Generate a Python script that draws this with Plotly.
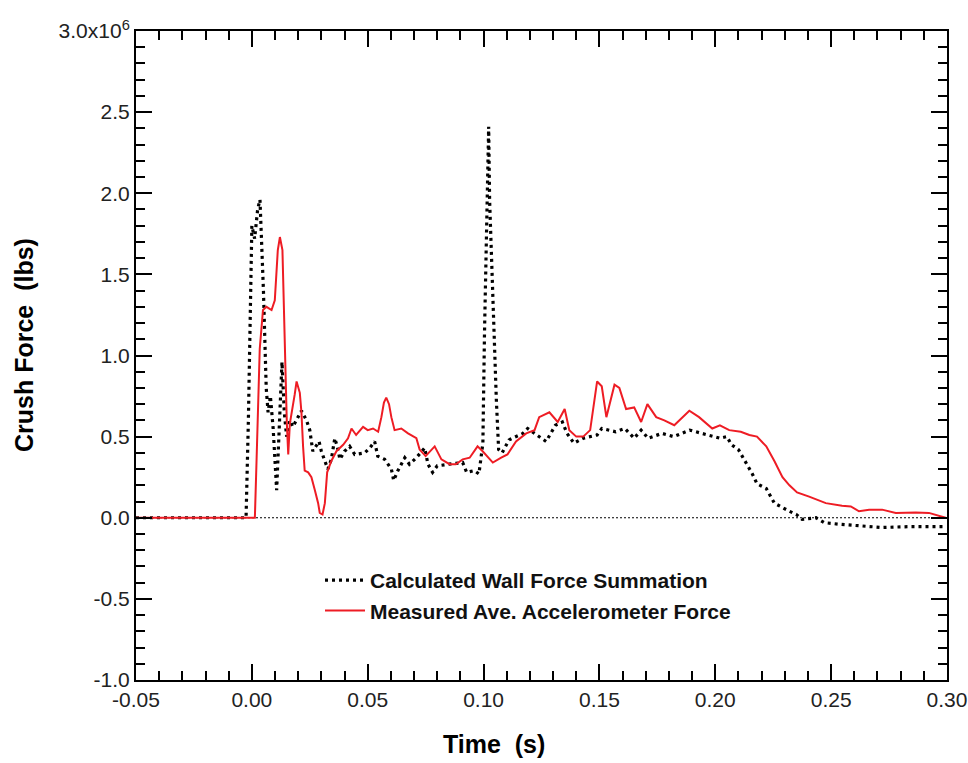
import numpy as np
import plotly.graph_objects as go

# Calculated Wall Force Summation (time s, force in 1e6 lbs)
calc_t = [-0.05, -0.0025, -0.0015, -0.0005, 0.0000, 0.0012, 0.0025, 0.0035, 0.0050, 0.0062,
          0.0070, 0.0080, 0.0092, 0.0107, 0.0118, 0.0130, 0.0140, 0.0150, 0.0164, 0.0177,
          0.0214, 0.0236, 0.0250, 0.0257, 0.0263, 0.0290, 0.0300, 0.0315, 0.0328, 0.0343,
          0.0358, 0.0370, 0.0380, 0.0400, 0.0422, 0.0444, 0.0487, 0.0509, 0.0530, 0.0543,
          0.0573, 0.0602, 0.0612, 0.0630, 0.0660, 0.0680, 0.0710, 0.0746, 0.0760, 0.0780,
          0.0800, 0.0850, 0.0910, 0.0927, 0.0960, 0.0980, 0.0997, 0.1004, 0.1012, 0.1019,
          0.1022, 0.1026, 0.1040, 0.1055, 0.1065, 0.1080, 0.1110, 0.1170, 0.1190, 0.1240,
          0.1270, 0.1310, 0.1340, 0.1360, 0.1390, 0.1430, 0.1490, 0.1510, 0.1570, 0.1610,
          0.1650, 0.1680, 0.1710, 0.1770, 0.1820, 0.1890, 0.1940, 0.2020, 0.2050, 0.2070,
          0.2100, 0.2120, 0.2140, 0.2160, 0.2180, 0.2220, 0.2255, 0.2290, 0.2320, 0.2350,
          0.2375, 0.2435, 0.2470, 0.2535, 0.2630, 0.2720, 0.2836, 0.2920, 0.2990]
calc_f = [0.00, 0.00, 0.60, 1.40, 1.80, 1.72, 1.90, 1.96, 1.40, 0.80,
          0.65, 0.75, 0.55, 0.17, 0.60, 0.96, 0.65, 0.50, 0.60, 0.56,
          0.66, 0.60, 0.54, 0.45, 0.41, 0.47, 0.41, 0.35, 0.30, 0.36,
          0.49, 0.43, 0.36, 0.41, 0.44, 0.39, 0.40, 0.43, 0.47, 0.38,
          0.36, 0.30, 0.23, 0.29, 0.37, 0.33, 0.37, 0.43, 0.33, 0.28,
          0.32, 0.33, 0.34, 0.28, 0.29, 0.27, 0.46, 1.14, 1.76, 2.27,
          2.41, 1.96, 1.34, 0.73, 0.42, 0.40, 0.48, 0.52, 0.55, 0.50,
          0.47, 0.57, 0.59, 0.52, 0.46, 0.49, 0.51, 0.55, 0.53, 0.55,
          0.49, 0.54, 0.49, 0.52, 0.50, 0.54, 0.52, 0.49, 0.50, 0.45,
          0.42, 0.37, 0.32, 0.27, 0.21, 0.18, 0.09, 0.06, 0.04, 0.02,
          -0.01, 0.00, -0.03, -0.04, -0.05, -0.06, -0.055, -0.055, -0.055]

# Measured Ave. Accelerometer Force (time s, force in 1e6 lbs)
meas_t = [-0.05, 0.0013, 0.0020, 0.0028, 0.0034, 0.0048, 0.0063, 0.0085, 0.0099, 0.0112,
          0.0121, 0.0132, 0.0142, 0.0151, 0.0157, 0.0164, 0.0185, 0.0193, 0.0207, 0.0214,
          0.0221, 0.0228, 0.0243, 0.0257, 0.0272, 0.0286, 0.0293, 0.0305, 0.0315, 0.0325,
          0.0343, 0.0365, 0.0394, 0.0415, 0.0430, 0.0450, 0.0480, 0.0500, 0.0523, 0.0545,
          0.0559, 0.0570, 0.0580, 0.0592, 0.0602, 0.0616, 0.0645, 0.0674, 0.0710, 0.0724,
          0.0750, 0.0789, 0.0818, 0.0853, 0.0880, 0.0910, 0.0940, 0.0974, 0.0996, 0.1040,
          0.1076, 0.1103, 0.1140, 0.1184, 0.1220, 0.1240, 0.1284, 0.1320, 0.1350, 0.1370,
          0.1400, 0.1430, 0.1460, 0.1490, 0.1510, 0.1530, 0.1565, 0.1586, 0.1615, 0.1650,
          0.1680, 0.1707, 0.1745, 0.1780, 0.1823, 0.1888, 0.1930, 0.1987, 0.2020, 0.2060,
          0.2110, 0.2147, 0.2180, 0.2220, 0.2255, 0.2290, 0.2320, 0.2353, 0.2405, 0.2477,
          0.2547, 0.2585, 0.2620, 0.2664, 0.2720, 0.2779, 0.2865, 0.2922, 0.2994]
meas_f = [0.00, 0.00, 0.34, 0.75, 1.04, 1.28, 1.30, 1.28, 1.34, 1.65,
          1.73, 1.65, 1.04, 0.58, 0.39, 0.58, 0.76, 0.84, 0.77, 0.65,
          0.44, 0.29, 0.28, 0.25, 0.17, 0.09, 0.03, 0.02, 0.09, 0.28,
          0.35, 0.41, 0.45, 0.49, 0.55, 0.51, 0.56, 0.54, 0.55, 0.53,
          0.62, 0.71, 0.74, 0.70, 0.62, 0.54, 0.55, 0.52, 0.49, 0.42,
          0.38, 0.44, 0.36, 0.33, 0.33, 0.36, 0.37, 0.44, 0.41, 0.34,
          0.37, 0.39, 0.47, 0.52, 0.54, 0.62, 0.65, 0.59, 0.67, 0.54,
          0.50, 0.50, 0.54, 0.84, 0.81, 0.62, 0.82, 0.80, 0.67, 0.68,
          0.59, 0.70, 0.62, 0.60, 0.57, 0.66, 0.62, 0.55, 0.57, 0.54,
          0.53, 0.51, 0.50, 0.44, 0.35, 0.25, 0.20, 0.156, 0.13, 0.09,
          0.074, 0.07, 0.04, 0.05, 0.05, 0.03, 0.033, 0.03, 0.00]

y_tickvals = [-1.0, -0.5, 0.0, 0.5, 1.0, 1.5, 2.0, 2.5, 3.0]
y_ticktext = ["-1.0", "-0.5", "0.0", "0.5", "1.0", "1.5", "2.0", "2.5", "3.0x10<sup>6</sup>"]
x_tickvals = [-0.05, 0.00, 0.05, 0.10, 0.15, 0.20, 0.25, 0.30]
x_ticktext = ["-0.05", "0.00", "0.05", "0.10", "0.15", "0.20", "0.25", "0.30"]

FONT = "Liberation Sans, Arial, sans-serif"
scale = 1e6

fig = go.Figure()
fig.add_trace(go.Scatter(
    x=[-0.05, 0.30], y=[0, 0], mode="lines", showlegend=False, hoverinfo="skip",
    line=dict(color="black", width=1, dash="2px,2px")))
fig.add_trace(go.Scatter(
    x=calc_t, y=np.array(calc_f) * scale, mode="lines",
    name="<b>Calculated Wall Force Summation</b>",
    line=dict(color="black", width=3.2, dash="3px,4px")))
fig.add_trace(go.Scatter(
    x=meas_t, y=np.array(meas_f) * scale, mode="lines",
    name="<b>Measured Ave. Accelerometer Force</b>",
    line=dict(color="#ee1c24", width=2)))

axis_common = dict(
    showline=True, linecolor="black", linewidth=2, mirror="ticks",
    ticks="inside", tickcolor="black", tickwidth=2, ticklen=16,
    showgrid=False, zeroline=False, automargin=False, ticklabeloverflow="allow",
    tickfont=dict(family=FONT, size=21, color="#222"),
)
fig.update_xaxes(**axis_common, range=[-0.05, 0.30], tickvals=x_tickvals, ticktext=x_ticktext,
                 minor=dict(ticks="inside", dtick=0.01, ticklen=9, tickwidth=2, tickcolor="black"))
fig.update_yaxes(**axis_common, range=[-1.0 * scale, 3.0 * scale],
                 tickvals=[v * scale for v in y_tickvals], ticktext=y_ticktext,
                 minor=dict(ticks="inside", dtick=0.1 * scale, ticklen=9, tickwidth=2, tickcolor="black"))

plot_w = 811
fig.add_annotation(text="<b>Time\u00a0\u00a0(s)</b>", xref="paper", yref="paper",
                   x=(494 - 136) / plot_w, y=-(744 - 680) / 649, showarrow=False,
                   font=dict(family=FONT, size=25, color="black"), xanchor="center", yanchor="middle")
fig.add_annotation(text="<b>Crush Force\u00a0\u00a0(lbs)</b>", xref="paper", yref="paper",
                   x=-(136 - 24) / plot_w, y=(680 - 345) / 649, showarrow=False, textangle=-90,
                   font=dict(family=FONT, size=25, color="black"), xanchor="center", yanchor="middle")

fig.update_layout(
    width=968, height=763,
    margin=dict(l=136, r=21, t=31, b=83, autoexpand=False),
    plot_bgcolor="white", paper_bgcolor="white",
    legend=dict(x=(320 - 136) / plot_w, y=(680 - 560) / 649, xanchor="left", yanchor="top",
                bgcolor="rgba(0,0,0,0)", font=dict(family=FONT, size=21, color="#111"),
                tracegroupgap=0, itemwidth=40),
)

fig.write_html("out.html")
